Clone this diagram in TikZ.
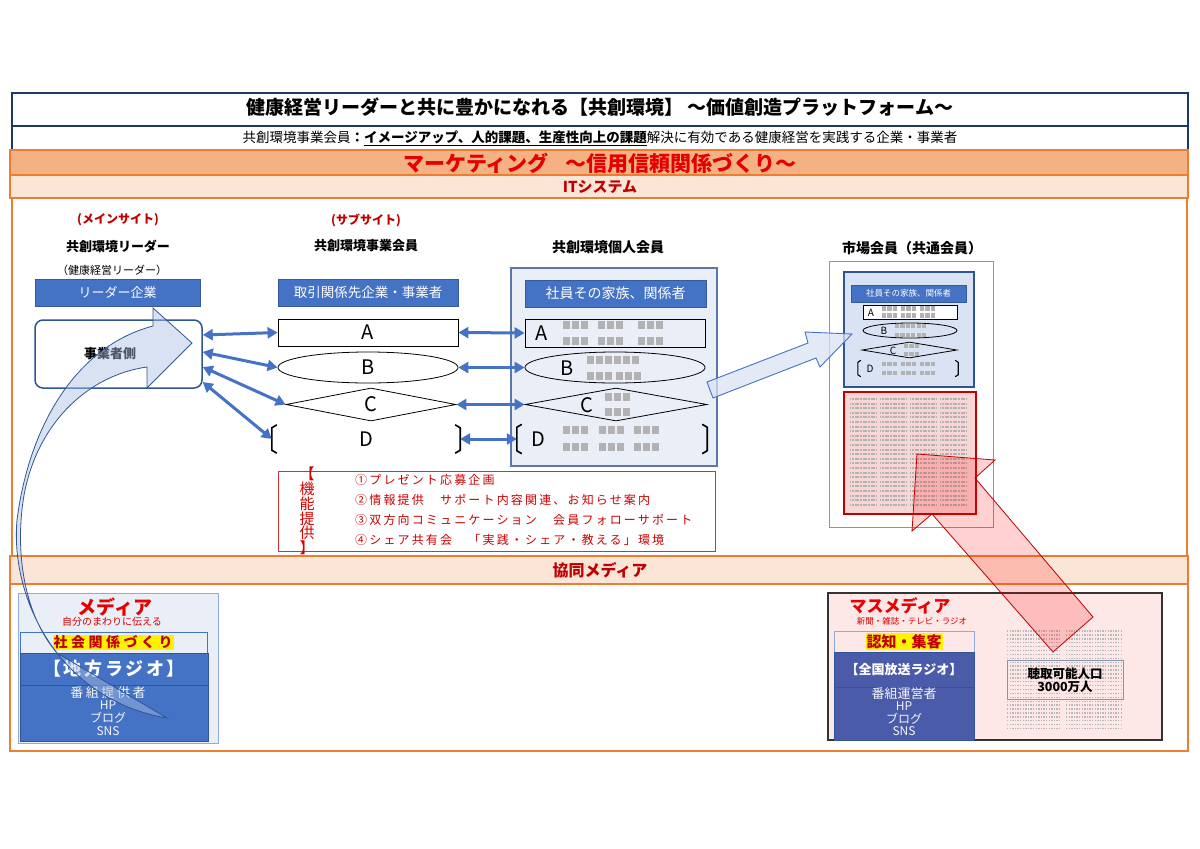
\documentclass[tikz,border=0pt]{standalone}
\usepackage{fontspec}
\setmainfont{Noto Sans CJK JP}
\usetikzlibrary{arrows.meta,shapes.geometric}
\definecolor{obl}{HTML}{4472C4}
\definecolor{dbl}{HTML}{2F5597}
\definecolor{navy}{HTML}{203864}
\definecolor{org}{HTML}{ED7D31}
\definecolor{bandA}{HTML}{F4B183}
\definecolor{bandB}{HTML}{FBE5D6}
\definecolor{dred}{HTML}{C00000}
\definecolor{brred}{HTML}{E60000}
\definecolor{lblue}{HTML}{E9EEF7}
\definecolor{lbluet}{HTML}{DAE3F3}
\definecolor{pinkf}{HTML}{F9D6D6}
\definecolor{pinkbg}{HTML}{FDE7E7}
\definecolor{mblue}{HTML}{4A5BAA}
\definecolor{greyblue}{HTML}{8497B0}
\newcommand\fsz[1]{\fontsize{#1}{#1}\selectfont}
\newcommand\qrrow[4]{%
  \foreach \qi in {1,...,#3}{\fill[gray!60] ({#1+(\qi-1)*9*#4},{#2-4*#4}) rectangle ++({7*#4},{8*#4});}}
\begin{document}
\begin{tikzpicture}[x=1pt,y=-1pt,
  band/.style={draw=org, line width=2.5pt},
  bluebox/.style={fill=obl, draw=obl!80!black, line width=0.6pt, text=white, inner sep=0pt},
  shp/.style={draw=black, line width=0.8pt, fill=white, inner sep=0pt},
  shpin/.style={draw=black, line width=0.8pt, fill=lblue, inner sep=0pt},
  brk/.style={draw=black, line width=1.6pt},
  dblarrow/.style={draw=obl, line width=3pt, {Triangle[length=10pt,width=11pt]}-{Triangle[length=10pt,width=11pt]}},
  lbl/.style={inner sep=0pt},
  head/.style={font=\fsz{13}\bfseries, inner sep=0pt},
  redhead/.style={font=\fsz{12}\bfseries, text=dred, inner sep=0pt},
  functxt/.style={anchor=west, font=\fsz{12}\addfontfeature{LetterSpace=18}, text=red!80!black, inner sep=0pt}
]
\useasboundingbox (0,0) rectangle (1200,849);
\fill[white] (0,0) rectangle (1200,849);

% ---------- title ----------
\draw[navy, line width=1.3pt] (12,93) rectangle (1188,126);
\draw[navy, line width=1.3pt] (12,126) rectangle (1188,150);
\node[lbl, font=\fsz{19}\bfseries] (title) at (600,107) {健康経営リーダーと共に豊かになれる【共創環境】 ～価値創造プラットフォーム～};
\node[lbl, font=\fsz{13.5}] (sub) at (600,138) {共創環境事業会員{\bfseries ：}\underline{\bfseries イメージアップ、人的課題、生産性向上の課題}解決に有効である健康経営を実践する企業・事業者};

% ---------- frames ----------
\draw[band] (12,198) rectangle (1187,556);
\draw[band, fill=bandA] (10,150) rectangle (1188,175);
\draw[band, fill=bandB] (10,175) rectangle (1188,198);
\draw[band] (10,584) rectangle (1188,751);
\draw[band, fill=bandB] (10,556) rectangle (1188,584);
\node[lbl, font=\fsz{21}\bfseries, text=brred] (mkt) at (600,163) {マーケティング\hspace{0.8em}～信用信頼関係づくり～};
\node[lbl, font=\fsz{15}\bfseries, text=dred] (its) at (600,187) {ITシステム};
\node[lbl, font=\fsz{16}\bfseries, text=dred] (kyodo) at (600,570) {協同メディア};

% ---------- left column ----------
\node[redhead] (mainsite) at (118,220) {(メインサイト)};
\node[head] (leader) at (118,246) {共創環境リーダー};
\node[lbl, font=\fsz{11}] (kenko) at (112,270) {（健康経営リーダー）};
\node[bluebox, minimum width=165, minimum height=27, font=\fsz{13}] (lcorp) at (117.5,292.5) {リーダー企業};
\node[draw=dbl, line width=1.5pt, rounded corners=8pt, fill=white, minimum width=167, minimum height=68] (L) at (118.5,354) {};
\node[lbl, font=\fsz{13}\bfseries] (Lt) at (110,354) {事業者側};

% ---------- middle column ----------
\node[redhead] (subsite) at (366,220) {(サブサイト)};
\node[head] (bizmem) at (366,246) {共創環境事業会員};
\node[bluebox, minimum width=180, minimum height=27, font=\fsz{13.5}] (mhdr) at (368,292.5) {取引関係先企業・事業者};
\node[shp, rectangle, minimum width=180, minimum height=27, font=\fsz{20}] (mA) at (368,332.5) {A};
\node[shp, ellipse, minimum width=180, minimum height=31, font=\fsz{20}] (mB) at (368,367.5) {B};
\node[shp, diamond, minimum width=170, minimum height=33] (mC) at (371,404.5) {};
\node[lbl, font=\fsz{20}] (mCl) at (mC) {C};
\node[inner sep=0pt, minimum width=188, minimum height=28, font=\fsz{20}] (mD) at (366,439) {D};
\draw[brk] ([xshift=5pt]mD.north west) -- ([yshift=-3pt]mD.north west) -- ([yshift=3pt]mD.south west) -- ([xshift=5pt]mD.south west);
\draw[brk] ([xshift=-5pt]mD.north east) -- ([yshift=-3pt]mD.north east) -- ([yshift=3pt]mD.south east) -- ([xshift=-5pt]mD.south east);

% ---------- individual members ----------
\node[head, font=\fsz{14}\bfseries] (indiv) at (608,247) {共創環境個人会員};
\node[draw=dbl!80, line width=1.2pt, fill=lblue, minimum width=206, minimum height=198] (pbox) at (614,367) {};
\node[bluebox, minimum width=181, minimum height=27, font=\fsz{14}] (phdr) at (615.5,293.5) {社員その家族、関係者};
\node[shpin, rectangle, minimum width=180, minimum height=28] (pA) at (615,333) {};
\node[shpin, ellipse, minimum width=180, minimum height=31] (pB) at (615,367.5) {};
\node[shpin, diamond, minimum width=182, minimum height=33] (pC) at (616,404.5) {};
\node[inner sep=0pt, minimum width=190, minimum height=29] (pD) at (612,439) {};
\draw[brk] ([xshift=5pt]pD.north west) -- ([yshift=-3pt]pD.north west) -- ([yshift=3pt]pD.south west) -- ([xshift=5pt]pD.south west);
\draw[brk] ([xshift=-5pt]pD.north east) -- ([yshift=-3pt]pD.north east) -- ([yshift=3pt]pD.south east) -- ([xshift=-5pt]pD.south east);
\node[lbl, font=\fsz{20}] (pAl) at (542,333) {A};
\node[lbl, font=\fsz{20}] (pBl) at (567,368) {B};
\node[lbl, font=\fsz{20}] (pCl) at (587,405) {C};
\node[lbl, font=\fsz{20}] (pDl) at (538,439) {D};
\qrrow{563}{325}{3}{1}\qrrow{598}{325}{3}{1}\qrrow{638}{325}{3}{1}
\qrrow{563}{341}{3}{1}\qrrow{598}{341}{3}{1}\qrrow{638}{341}{3}{1}
\qrrow{587}{360}{6}{1}
\qrrow{587}{376}{3}{1}\qrrow{616}{376}{3}{1}
\qrrow{605}{397}{3}{1}\qrrow{605}{412}{3}{1}
\qrrow{563}{430}{3}{1}\qrrow{599}{430}{3}{1}\qrrow{634}{430}{3}{1}
\qrrow{563}{447}{3}{1}\qrrow{599}{447}{3}{1}\qrrow{634}{447}{3}{1}

% ---------- connectors ----------
\draw[dblarrow] ([yshift=19pt]L.east) -- (mA.west);
\draw[dblarrow] ([yshift=2pt]L.east) -- (mB.west);
\draw[dblarrow] ([yshift=-13pt]L.east) -- (mC.west);
\draw[dblarrow] ([yshift=-28pt]L.east) -- (mD.west);
\draw[dblarrow] (mA.east) -- (pA.west);
\draw[dblarrow] (mB.east) -- (pB.west);
\draw[dblarrow] (mC.east) -- (pC.west);
\draw[dblarrow] (mD.east) -- (pD.west);

% ---------- market members ----------
\node[head, font=\fsz{14}\bfseries] (market) at (912,248) {市場会員（共通会員）};
\node[draw=greyblue, line width=1pt, fill=white, minimum width=164, minimum height=266] (sbox) at (911,394) {};
\node[draw=dbl, line width=1.6pt, fill=lbluet, minimum width=130, minimum height=115] (sin) at (909,329.5) {};
\node[bluebox, minimum width=115, minimum height=17, font=\fsz{8.5}] (shdr) at (908.5,293.5) {社員その家族、関係者};
\node[shp, fill=white, rectangle, minimum width=94, minimum height=14] (sA) at (910,312) {};
\node[shp, fill=lbluet, ellipse, minimum width=94, minimum height=15] (sB) at (910,330.5) {};
\node[shp, fill=lbluet, diamond, minimum width=95, minimum height=16] (sC) at (909.5,350) {};
\node[inner sep=0pt, minimum width=100, minimum height=16] (sD) at (908,368.5) {};
\draw[brk, line width=1.1pt] ([xshift=3pt]sD.north west) -- ([yshift=-2pt]sD.north west) -- ([yshift=2pt]sD.south west) -- ([xshift=3pt]sD.south west);
\draw[brk, line width=1.1pt] ([xshift=-3pt]sD.north east) -- ([yshift=-2pt]sD.north east) -- ([yshift=2pt]sD.south east) -- ([xshift=-3pt]sD.south east);
\node[lbl, font=\fsz{10}] (sAl) at (871,312.5) {A};
\node[lbl, font=\fsz{10}] (sBl) at (884,331) {B};
\node[lbl, font=\fsz{10}] (sCl) at (893,351) {C};
\node[lbl, font=\fsz{10}] (sDl) at (870,369) {D};
\qrrow{882}{308.5}{3}{0.6}\qrrow{901}{308.5}{3}{0.6}\qrrow{920}{308.5}{3}{0.6}
\qrrow{882}{315.5}{3}{0.6}\qrrow{901}{315.5}{3}{0.6}\qrrow{920}{315.5}{3}{0.6}
\qrrow{895}{326}{6}{0.6}\qrrow{895}{335}{6}{0.6}
\qrrow{904}{346}{3}{0.6}\qrrow{904}{354}{3}{0.6}
\qrrow{882}{364}{3}{0.6}\qrrow{901}{364}{3}{0.6}\qrrow{920}{364}{3}{0.6}
\qrrow{882}{373}{3}{0.6}\qrrow{901}{373}{3}{0.6}\qrrow{920}{373}{3}{0.6}
\node[draw=dred, line width=1.8pt, fill=pinkf, minimum width=132, minimum height=122] (spink) at (910,453) {};
\foreach \r in {0,...,23}{\foreach \c in {0,...,3}{
  \draw[gray!60, line width=2pt, dash pattern=on 1.1pt off 0.5pt] ({850+\c*30},{399+\r*4.6}) -- ++(27,0);}}

% ---------- function box ----------
\node[draw=dred!80, line width=0.8pt, fill=white, minimum width=437, minimum height=80] (func) at (496.5,511) {};
\node[lbl, align=center, font=\fontsize{15}{12.8}\selectfont, text=red!85!black] (funcv) at (307,511) {【\\機\\能\\提\\供\\】};
\node[functxt] (f1) at (355,480) {①プレゼント応募企画};
\node[functxt] (f2) at (355,499.5) {②情報提供　サポート内容関連、お知らせ案内};
\node[functxt] (f3) at (355,519.5) {③双方向コミュニケーション　会員フォローサポート};
\node[functxt] (f4) at (355,540) {④シェア共有会　「実践・シェア・教える」環境};

% ---------- left media ----------
\node[draw=obl!60, line width=1pt, fill=lblue, minimum width=200, minimum height=150] (media) at (118,668) {};
\node[lbl, font=\fsz{19}\bfseries, text=brred] (mediat) at (115,607) {メディア};
\node[lbl, font=\fsz{10}, text=red!85!black] (medias) at (112,621.5) {自分のまわりに伝える};
\node[draw=obl, line width=0.8pt, fill=lblue, minimum width=187, minimum height=21] (social) at (113.5,642.5) {};
\node[lbl, font=\fsz{14}\bfseries\addfontfeature{LetterSpace=25}, text=dred] (socialt) at (113,642.5) {\setlength{\fboxsep}{1pt}\colorbox{yellow}{社会関係づくり}};
\node[fill=obl, draw=dbl, line width=0.8pt, minimum width=188, minimum height=32, text=white, font=\fsz{18}\bfseries\addfontfeature{LetterSpace=15}] (local) at (114,669) {【地方ラジオ】};
\node[fill=obl, draw=dbl, line width=0.8pt, minimum width=188, minimum height=56] (localb) at (114,713) {};
\node[lbl, font=\fsz{13}\addfontfeature{LetterSpace=20}, text=white!92!gray] (l1) at (108,693) {番組提供者};
\node[lbl, font=\fsz{12}, text=white!92!gray] (l2) at (108,705.5) {HP};
\node[lbl, font=\fsz{12}, text=white!92!gray] (l3) at (108,718) {ブログ};
\node[lbl, font=\fsz{12}, text=white!92!gray] (l4) at (108,731) {SNS};

% ---------- mass media ----------
\node[draw=black!80, line width=1.6pt, fill=pinkbg, minimum width=334, minimum height=147] (mass) at (995,666.5) {};
\node[lbl, font=\fsz{17}\bfseries, text=brred] (masst) at (900,605.5) {マスメディア};
\node[lbl, font=\fsz{8.5}, text=red!85!black] (masss) at (912,621.5) {新聞・雑誌・テレビ・ラジオ};
\node[draw=obl!60, line width=0.8pt, fill=pinkbg, minimum width=140, minimum height=21] (ninchi) at (904,641.5) {};
\node[lbl, font=\fsz{15}\bfseries, text=dred] (ninchit) at (904,641.5) {\setlength{\fboxsep}{1pt}\colorbox{yellow}{認知・集客}};
\node[fill=mblue, draw=dbl, line width=0.8pt, minimum width=140, minimum height=35, text=white, font=\fsz{13}\bfseries] (national) at (904,669.5) {【全国放送ラジオ】};
\node[fill=mblue, draw=dbl, line width=0.8pt, minimum width=140, minimum height=53] (nationalb) at (904,713.5) {};
\node[lbl, font=\fsz{13}, text=white!92!gray] (n1) at (904,693.5) {番組運営者};
\node[lbl, font=\fsz{12}, text=white!92!gray] (n2) at (904,706) {HP};
\node[lbl, font=\fsz{12}, text=white!92!gray] (n3) at (904,718.5) {ブログ};
\node[lbl, font=\fsz{12}, text=white!92!gray] (n4) at (904,731.5) {SNS};
\foreach \r in {0,...,25}{
  \draw[gray!55, line width=1.4pt, dash pattern=on 1.4pt off 1.2pt] (1007,{631+\r*3.9}) -- (1060,{631+\r*3.9});
  \draw[gray!55, line width=1.4pt, dash pattern=on 1.4pt off 1.2pt] (1066,{631+\r*3.9}) -- (1122,{631+\r*3.9});}
\node[draw=greyblue, line width=0.8pt, minimum width=116, minimum height=39] (listen) at (1065,679.5) {};
\node[lbl, align=center, font=\fsz{12.5}\bfseries] (listent) at (1065,680) {聴取可能人口\\3000万人};

% ---------- block arrows ----------
\draw[draw=obl, line width=0.9pt, fill=lbluet, fill opacity=0.75] (707,382) -- (808,343) -- (805,332) -- (852,334) -- (820,367) -- (816,358) -- (713,398) -- cycle;
\draw[draw=dbl, line width=0.8pt, fill=obl!45, fill opacity=0.45]
  (153,326) .. controls (80,345) and (30,420) .. (17,520)
  .. controls (10,600) and (60,700) .. (167,718)
  -- (57,653)
  .. controls (20,610) and (15,540) .. (25,490)
  .. controls (40,420) and (90,375) .. (147,367)
  -- (147,388) -- (192,343) -- (153,308) -- cycle;
\draw[draw=dred, line width=0.8pt, fill=red, fill opacity=0.18] (917,454) -- (995,460) -- (975,478) -- (1093,617) -- (1053,652) -- (932,514) -- (912,531) -- cycle;
\end{tikzpicture}
\end{document}
